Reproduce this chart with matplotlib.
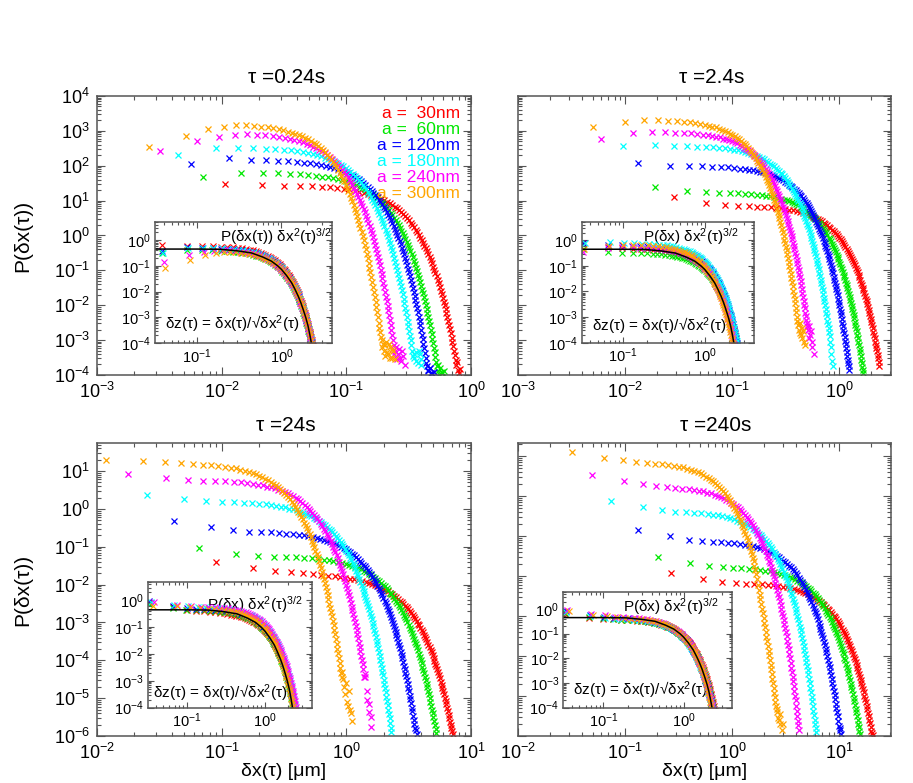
import numpy as np
import matplotlib
matplotlib.use("Agg")
import matplotlib.pyplot as plt
from matplotlib.ticker import LogLocator, NullFormatter

plt.rcParams["font.family"] = ["Liberation Sans", "DejaVu Sans"]
plt.rcParams["mathtext.default"] = "regular"

nan = float("nan")  # empty histogram bin

sizes = ["a =  30nm", "a =  60nm", "a = 120nm", "a = 180nm", "a = 240nm", "a = 300nm"]
colors = ["#ff0000", "#00e800", "#0000ff", "#00ffff", "#ff00ff", "#ffa500"]

# histogram bin number of every point (x = bin * bin width)
bins = list(range(1, 99))

# black master curve of the insets: dz and log10(P dx^2^(3/2))
curve_z = [0.03, 0.1, 0.19, 0.3, 0.44, 0.6, 0.76, 0.9, 1.0, 1.15,
           1.32, 1.45, 1.58, 1.7, 1.81, 1.95, 2.07, 2.17, 2.27, 2.35]
curve_logp = [-0.35, -0.35, -0.36, -0.42, -0.50, -0.66, -0.82, -1.0, -1.14, -1.38,
              -1.66, -1.92, -2.18, -2.44, -2.70, -3.03, -3.35, -3.68, -4.03, -4.3]

# ---- tau = 0.24 s : bin width [um], sqrt(<dx^2>) [um], log10 P per bin
width_024s = [0.0106, 0.0071, 0.0057, 0.0045, 0.0032, 0.0026]
rms_024s = [0.279, 0.187, 0.150, 0.1154, 0.080, 0.0628]
logp_024s_30nm = [
    1.49, 1.44, 1.42, 1.42, 1.41, 1.40, 1.38, 1.36, 1.34, 1.32, 1.29, 1.26, 1.23, 1.20, 1.17, 1.13,
    1.09, 1.05, 1.01, 0.97, 0.93, 0.88, 0.83, 0.78, 0.73, 0.67, 0.61, 0.55, 0.49, 0.43, 0.37, 0.30,
    0.23, 0.16, 0.09, 0.02, -0.06, -0.13, -0.21, -0.29, -0.37, -0.45, -0.54, -0.62, -0.71, -0.80, -0.89, -0.98,
    -1.08, -1.17, -1.27, -1.37, -1.47, -1.58, -1.68, -1.79, -1.90, -2.00, -2.11, -2.23, -2.34, -2.46, -2.58, -2.69,
    -2.81, -2.93, -3.06, -3.18, -3.31, -3.44, -3.57, -3.70, -3.62, -3.85, -3.95, nan, -3.82]
logp_024s_60nm = [
    1.68, 1.78, 1.79, 1.78, 1.76, 1.75, 1.73, 1.71, 1.69, 1.67, 1.64, 1.61, 1.58, 1.55, 1.52, 1.48,
    1.44, 1.40, 1.36, 1.32, 1.28, 1.23, 1.18, 1.13, 1.08, 1.02, 0.96, 0.90, 0.84, 0.78, 0.72, 0.65,
    0.58, 0.51, 0.44, 0.37, 0.29, 0.22, 0.14, 0.06, -0.02, -0.10, -0.19, -0.27, -0.36, -0.45, -0.54, -0.63,
    -0.73, -0.82, -0.92, -1.02, -1.12, -1.23, -1.33, -1.44, -1.55, -1.65, -1.76, -1.88, -1.99, -2.11, -2.23, -2.34,
    -2.46, -2.58, -2.71, -2.83, -2.96, -3.09, -3.22, -3.35, -3.49, -3.62, -3.75, -3.70, -3.90, -3.98, nan, -3.80,
    nan, -3.92, -3.95, nan, nan, -3.88]
logp_024s_120nm = [
    2.04, 2.21, 2.17, 2.16, 2.14, 2.13, 2.11, 2.09, 2.07, 2.05, 2.02, 1.99, 1.96, 1.93, 1.90, 1.86,
    1.82, 1.78, 1.74, 1.70, 1.66, 1.61, 1.56, 1.51, 1.46, 1.40, 1.34, 1.28, 1.22, 1.16, 1.10, 1.03,
    0.96, 0.89, 0.82, 0.75, 0.67, 0.60, 0.52, 0.44, 0.36, 0.28, 0.19, 0.11, 0.02, -0.07, -0.16, -0.25,
    -0.35, -0.44, -0.54, -0.64, -0.74, -0.85, -0.95, -1.06, -1.17, -1.27, -1.38, -1.50, -1.61, -1.73, -1.85, -1.96,
    -2.08, -2.20, -2.33, -2.45, -2.58, -2.71, -2.84, -2.97, -3.11, -3.24, -3.38, -3.51, -3.65, -3.75, -3.85, -3.90,
    nan, -3.80, -3.80, -3.95, nan, -3.95, nan, nan, -3.92]
logp_024s_180nm = [
    2.32, 2.51, 2.52, 2.50, 2.49, 2.48, 2.46, 2.44, 2.42, 2.39, 2.36, 2.33, 2.30, 2.27, 2.23, 2.20,
    2.16, 2.11, 2.07, 2.02, 1.98, 1.93, 1.88, 1.82, 1.77, 1.71, 1.65, 1.59, 1.53, 1.46, 1.39, 1.32,
    1.25, 1.18, 1.11, 1.03, 0.95, 0.87, 0.79, 0.70, 0.62, 0.53, 0.45, 0.36, 0.27, 0.17, 0.08, -0.02,
    -0.12, -0.22, -0.33, -0.43, -0.54, -0.65, -0.76, -0.87, -0.98, -1.10, -1.21, -1.33, -1.45, -1.57, -1.69, -1.82,
    -1.94, -2.07, -2.20, -2.33, -2.47, -2.60, -2.74, -2.88, -3.01, -3.15, -3.30, -3.45, -3.50, -3.40, nan, -3.35,
    -3.60, nan, -3.65, nan, -3.30, -3.40, nan, -3.55, -3.70]
logp_024s_240nm = [
    2.42, 2.71, 2.83, 2.88, 2.91, 2.89, 2.87, 2.84, 2.82, 2.79, 2.77, 2.74, 2.70, 2.67, 2.63, 2.59,
    2.55, 2.50, 2.46, 2.41, 2.36, 2.31, 2.26, 2.20, 2.14, 2.08, 2.02, 1.95, 1.89, 1.82, 1.75, 1.68,
    1.60, 1.53, 1.45, 1.37, 1.28, 1.20, 1.11, 1.03, 0.94, 0.85, 0.75, 0.66, 0.56, 0.47, 0.37, 0.27,
    0.16, 0.06, -0.05, -0.16, -0.27, -0.39, -0.50, -0.62, -0.74, -0.86, -0.98, -1.10, -1.23, -1.35, -1.48, -1.62,
    -1.75, -1.88, -2.02, -2.15, -2.29, -2.43, -2.57, -2.71, -2.86, -3.00, -3.15, -3.40, -3.30, -3.20, nan, -3.55,
    nan, -3.40, -3.25, nan, -3.50, -3.60, nan, -3.30, -3.45, nan, nan, -3.70]
logp_024s_300nm = [
    2.54, 2.85, 3.04, 3.12, 3.16, 3.16, 3.14, 3.12, 3.10, 3.08, 3.05, 3.02, 2.98, 2.95, 2.92, 2.88,
    2.84, 2.80, 2.76, 2.71, 2.66, 2.61, 2.56, 2.50, 2.44, 2.38, 2.32, 2.25, 2.18, 2.11, 2.04, 1.96,
    1.88, 1.80, 1.72, 1.63, 1.55, 1.46, 1.37, 1.27, 1.18, 1.08, 0.98, 0.88, 0.77, 0.67, 0.56, 0.45,
    0.33, 0.22, 0.10, -0.02, -0.14, -0.27, -0.39, -0.52, -0.65, -0.79, -0.92, -1.06, -1.19, -1.33, -1.47, -1.62,
    -1.76, -1.91, -2.05, -2.20, -2.35, -2.50, -2.65, -2.77, -2.90, -3.00, -3.20, -3.10, -3.30, -3.45, -3.15, -3.05,
    -3.35, nan, -3.40, -3.10, nan, -3.20, -3.50, nan, -3.50, -3.25, nan, -3.30, nan, nan, -3.55]

# ---- tau = 2.4 s
width_2p4s = [0.0287, 0.019, 0.0131, 0.0095, 0.0059, 0.00505]
rms_2p4s = [0.87, 0.576, 0.40, 0.275, 0.179, 0.15]
logp_2p4s_30nm = [
    0.09, -0.08, -0.13, -0.15, -0.16, -0.17, -0.18, -0.19, -0.21, -0.22, -0.24, -0.26, -0.28, -0.30, -0.32, -0.35,
    -0.37, -0.40, -0.43, -0.46, -0.49, -0.52, -0.55, -0.59, -0.63, -0.67, -0.71, -0.75, -0.79, -0.83, -0.87, -0.92,
    -0.97, -1.01, -1.06, -1.11, -1.16, -1.21, -1.27, -1.32, -1.38, -1.44, -1.49, -1.55, -1.61, -1.67, -1.73, -1.80,
    -1.86, -1.93, -2.00, -2.06, -2.13, -2.20, -2.28, -2.35, -2.42, -2.50, -2.57, -2.65, -2.73, -2.81, -2.89, -2.97,
    -3.05, -3.14, -3.22, -3.31, -3.40, -3.48, -3.57, -3.66, -3.76, -3.85, -3.94, -4.04, -4.13, -4.23, -4.32, -4.42,
    -4.52, -4.63, -4.73]
logp_2p4s_60nm = [
    0.39, 0.28, 0.24, 0.23, 0.22, 0.21, 0.20, 0.19, 0.17, 0.16, 0.14, 0.12, 0.10, 0.08, 0.06, 0.03,
    0.01, -0.02, -0.05, -0.08, -0.11, -0.14, -0.17, -0.21, -0.25, -0.29, -0.33, -0.37, -0.41, -0.45, -0.50, -0.54,
    -0.59, -0.63, -0.68, -0.73, -0.78, -0.83, -0.89, -0.94, -1.00, -1.06, -1.11, -1.17, -1.23, -1.29, -1.35, -1.42,
    -1.48, -1.55, -1.62, -1.68, -1.75, -1.82, -1.90, -1.97, -2.04, -2.12, -2.19, -2.27, -2.35, -2.43, -2.51, -2.59,
    -2.67, -2.76, -2.84, -2.93, -3.02, -3.10, -3.19, -3.28, -3.38, -3.47, -3.56, -3.66, -3.75, -3.85, -3.94, -4.04,
    -4.14, -4.25, -4.35, -4.45, -4.56, -4.66, -4.76, -4.85, -4.95]
logp_2p4s_120nm = [
    1.07, 0.99, 0.99, 0.98, 0.97, 0.96, 0.95, 0.94, 0.92, 0.91, 0.89, 0.87, 0.85, 0.83, 0.81, 0.78,
    0.76, 0.73, 0.70, 0.67, 0.64, 0.61, 0.58, 0.54, 0.50, 0.46, 0.42, 0.38, 0.34, 0.30, 0.26, 0.21,
    0.16, 0.12, 0.07, 0.02, -0.03, -0.08, -0.14, -0.19, -0.25, -0.31, -0.36, -0.42, -0.48, -0.54, -0.60, -0.67,
    -0.73, -0.80, -0.87, -0.93, -1.00, -1.07, -1.15, -1.22, -1.29, -1.37, -1.44, -1.52, -1.60, -1.68, -1.76, -1.84,
    -1.92, -2.01, -2.09, -2.18, -2.27, -2.35, -2.44, -2.53, -2.63, -2.72, -2.81, -2.91, -3.00, -3.10, -3.19, -3.29,
    -3.39, -3.50, -3.60, -3.70, -3.81, -3.91, -4.02, -4.12, -4.23, -4.34, -4.45, -4.56, -4.66, -4.75, -4.85]
logp_2p4s_180nm = [
    1.57, 1.60, 1.57, 1.56, 1.55, 1.54, 1.53, 1.51, 1.50, 1.48, 1.46, 1.44, 1.41, 1.39, 1.36, 1.34,
    1.31, 1.28, 1.25, 1.21, 1.18, 1.14, 1.10, 1.06, 1.02, 0.98, 0.94, 0.89, 0.85, 0.80, 0.75, 0.70,
    0.65, 0.59, 0.54, 0.48, 0.43, 0.37, 0.31, 0.25, 0.19, 0.12, 0.06, -0.01, -0.08, -0.14, -0.21, -0.28,
    -0.36, -0.43, -0.51, -0.58, -0.66, -0.74, -0.82, -0.90, -0.98, -1.07, -1.15, -1.24, -1.32, -1.41, -1.50, -1.60,
    -1.69, -1.78, -1.88, -1.97, -2.07, -2.17, -2.27, -2.37, -2.47, -2.57, -2.68, -2.78, -2.89, -3.00, -3.10, -3.21,
    -3.32, -3.44, -3.55, -3.66, -3.78, -3.89, -4.05, -4.20, -4.40, nan, -4.60, -4.75]
logp_2p4s_240nm = [
    1.78, 1.93, 1.97, 1.96, 1.95, 1.94, 1.93, 1.91, 1.89, 1.87, 1.85, 1.83, 1.81, 1.78, 1.76, 1.73,
    1.70, 1.67, 1.64, 1.60, 1.56, 1.52, 1.49, 1.45, 1.41, 1.36, 1.32, 1.27, 1.22, 1.17, 1.12, 1.07,
    1.02, 0.96, 0.91, 0.85, 0.79, 0.73, 0.67, 0.60, 0.54, 0.47, 0.41, 0.34, 0.27, 0.20, 0.13, 0.05,
    -0.02, -0.10, -0.18, -0.25, -0.33, -0.41, -0.50, -0.58, -0.67, -0.75, -0.84, -0.93, -1.02, -1.11, -1.21, -1.30,
    -1.40, -1.50, -1.59, -1.69, -1.79, -1.89, -1.99, -2.10, -2.20, -2.31, -2.42, -2.53, -2.64, -2.75, -2.87, -2.98,
    -3.09, -3.21, -3.32, -3.41, -3.51, -3.60, -3.72, -3.60, -3.95, nan, -3.85, -3.75, nan, -4.05, -4.20, nan,
    nan, -4.40]
logp_2p4s_300nm = [
    2.12, 2.26, 2.30, 2.30, 2.29, 2.27, 2.26, 2.24, 2.22, 2.20, 2.18, 2.15, 2.12, 2.10, 2.06, 2.03,
    2.00, 1.96, 1.92, 1.88, 1.84, 1.80, 1.76, 1.71, 1.66, 1.61, 1.56, 1.51, 1.46, 1.40, 1.34, 1.28,
    1.22, 1.15, 1.09, 1.02, 0.96, 0.89, 0.82, 0.75, 0.68, 0.60, 0.53, 0.45, 0.37, 0.28, 0.20, 0.12,
    0.03, -0.05, -0.14, -0.23, -0.32, -0.42, -0.51, -0.61, -0.71, -0.81, -0.91, -1.01, -1.12, -1.22, -1.33, -1.43,
    -1.54, -1.65, -1.77, -1.88, -1.99, -2.11, -2.22, -2.34, -2.46, -2.58, -2.70, -2.83, -2.95, -3.08, -3.20, -3.33,
    -3.45, -3.58, -3.70, -3.55, -3.80, -3.50, nan, -3.85, -3.95, -3.65, nan, -3.75, -4.05, nan, -4.15]

# ---- tau = 24 s
width_24s = [0.0895, 0.0658, 0.0414, 0.025, 0.0178, 0.0118]
rms_24s = [2.70, 1.99, 1.25, 0.72, 0.47, 0.319]
logp_24s_30nm = [
    -1.39, -1.55, -1.64, -1.68, -1.70, -1.72, -1.74, -1.76, -1.78, -1.80, -1.82, -1.84, -1.86, -1.88, -1.90, -1.92,
    -1.95, -1.99, -2.02, -2.05, -2.08, -2.11, -2.15, -2.18, -2.22, -2.26, -2.30, -2.34, -2.38, -2.42, -2.46, -2.51,
    -2.56, -2.60, -2.65, -2.70, -2.75, -2.80, -2.86, -2.91, -2.97, -3.03, -3.08, -3.14, -3.20, -3.26, -3.32, -3.39,
    -3.45, -3.52, -3.59, -3.65, -3.72, -3.79, -3.87, -3.94, -4.01, -4.09, -4.16, -4.24, -4.32, -4.40, -4.48, -4.56,
    -4.64, -4.73, -4.81, -4.90, -4.99, -5.07, -5.16, -5.25, -5.35, -5.44, -5.53, -5.63, -5.72, -5.80, -5.87, -5.95]
logp_24s_60nm = [
    -1.02, -1.19, -1.25, -1.26, -1.27, -1.28, -1.29, -1.31, -1.32, -1.34, -1.36, -1.38, -1.40, -1.43, -1.45, -1.48,
    -1.51, -1.54, -1.57, -1.60, -1.63, -1.67, -1.71, -1.75, -1.79, -1.83, -1.87, -1.91, -1.96, -2.01, -2.05, -2.10,
    -2.15, -2.21, -2.26, -2.31, -2.37, -2.42, -2.48, -2.54, -2.60, -2.66, -2.73, -2.79, -2.86, -2.92, -2.99, -3.06,
    -3.14, -3.21, -3.28, -3.36, -3.43, -3.51, -3.58, -3.66, -3.74, -3.83, -3.91, -4.00, -4.08, -4.17, -4.26, -4.34,
    -4.43, -4.52, -4.62, -4.71, -4.81, -4.90, -5.00, -5.10, -5.20, -5.30, -5.40, -5.51, -5.61, -5.72, -5.82, -5.93]
logp_24s_120nm = [
    -0.32, -0.49, -0.57, -0.60, -0.61, -0.62, -0.63, -0.65, -0.66, -0.68, -0.70, -0.72, -0.74, -0.76, -0.79, -0.81,
    -0.84, -0.87, -0.90, -0.93, -0.96, -1.00, -1.03, -1.07, -1.11, -1.15, -1.19, -1.23, -1.27, -1.32, -1.37, -1.42,
    -1.47, -1.52, -1.57, -1.62, -1.68, -1.73, -1.79, -1.84, -1.90, -1.96, -2.03, -2.09, -2.15, -2.22, -2.28, -2.35,
    -2.42, -2.49, -2.56, -2.64, -2.71, -2.78, -2.86, -2.93, -3.01, -3.09, -3.17, -3.25, -3.34, -3.42, -3.51, -3.59,
    -3.68, -3.77, -3.86, -3.95, -4.04, -4.14, -4.23, -4.33, -4.42, -4.52, -4.62, -4.72, -4.82, -4.93, -5.03, -5.14,
    -5.25, -5.35, -5.46, -5.57, -5.67, -5.78, -5.85, nan, -5.95]
logp_24s_180nm = [
    0.37, 0.26, 0.21, 0.18, 0.17, 0.16, 0.15, 0.13, 0.12, 0.10, 0.08, 0.06, 0.04, 0.01, -0.01, -0.04,
    -0.07, -0.10, -0.13, -0.16, -0.20, -0.23, -0.27, -0.31, -0.35, -0.39, -0.43, -0.48, -0.52, -0.57, -0.62, -0.67,
    -0.72, -0.77, -0.82, -0.88, -0.93, -0.99, -1.05, -1.11, -1.17, -1.23, -1.30, -1.36, -1.43, -1.49, -1.56, -1.63,
    -1.71, -1.78, -1.85, -1.93, -2.00, -2.08, -2.16, -2.24, -2.32, -2.40, -2.48, -2.57, -2.65, -2.74, -2.83, -2.92,
    -3.01, -3.10, -3.20, -3.29, -3.39, -3.48, -3.58, -3.68, -3.78, -3.88, -3.98, -4.09, -4.19, -4.30, -4.40, -4.51,
    -4.62, -4.74, -4.85, -4.96, -5.07, -5.18, -5.30, -5.41, -5.53, -5.65, -5.78, -5.90]
logp_24s_240nm = [
    0.92, 0.82, 0.76, 0.75, 0.74, 0.73, 0.72, 0.70, 0.69, 0.66, 0.64, 0.62, 0.59, 0.57, 0.54, 0.51,
    0.48, 0.44, 0.41, 0.37, 0.33, 0.29, 0.25, 0.20, 0.16, 0.11, 0.06, 0.01, -0.05, -0.10, -0.15, -0.21,
    -0.27, -0.33, -0.39, -0.45, -0.52, -0.58, -0.65, -0.71, -0.78, -0.85, -0.93, -1.00, -1.08, -1.15, -1.23, -1.31,
    -1.39, -1.47, -1.56, -1.64, -1.73, -1.82, -1.91, -2.00, -2.09, -2.19, -2.28, -2.38, -2.48, -2.58, -2.68, -2.78,
    -2.88, -2.99, -3.09, -3.20, -3.31, -3.42, -3.53, -3.65, -3.76, -3.88, -4.00, -4.11, -4.23, -4.45, -4.35, -4.45,
    nan, -4.80, -5.05, nan, -5.15, -5.36, nan, -5.50, -5.77]
logp_24s_300nm = [
    1.29, 1.27, 1.23, 1.20, 1.18, 1.17, 1.15, 1.14, 1.11, 1.09, 1.07, 1.04, 1.01, 0.98, 0.95, 0.92,
    0.88, 0.84, 0.80, 0.76, 0.72, 0.67, 0.63, 0.58, 0.53, 0.47, 0.42, 0.37, 0.31, 0.25, 0.19, 0.13,
    0.06, 0.00, -0.07, -0.14, -0.21, -0.28, -0.36, -0.43, -0.51, -0.59, -0.67, -0.75, -0.84, -0.92, -1.01, -1.10,
    -1.19, -1.28, -1.37, -1.47, -1.56, -1.66, -1.76, -1.86, -1.96, -2.07, -2.17, -2.28, -2.39, -2.50, -2.61, -2.73,
    -2.84, -2.96, -3.07, -3.19, -3.31, -3.44, -3.56, -3.69, -3.81, -3.94, -4.07, -4.20, -4.33, -4.45, -4.30, -4.50,
    nan, -4.70, -4.90, nan, -4.60, -5.10, nan, -5.20, -4.80, nan, -5.30, -5.40, nan, nan, -5.60]

# ---- tau = 240 s
width_240s = [0.27, 0.204, 0.1315, 0.074, 0.049, 0.0318]
rms_240s = [8.15, 6.15, 3.868, 2.145, 1.40, 0.859]
logp_240s_30nm = [
    -2.92, -3.08, -3.14, -3.16, -3.19, -3.19, -3.20, -3.21, -3.23, -3.24, -3.26, -3.28, -3.30, -3.32, -3.34, -3.37,
    -3.39, -3.42, -3.45, -3.48, -3.51, -3.54, -3.57, -3.61, -3.65, -3.69, -3.73, -3.77, -3.81, -3.85, -3.89, -3.94,
    -3.99, -4.03, -4.08, -4.13, -4.18, -4.23, -4.29, -4.34, -4.40, -4.46, -4.51, -4.57, -4.63, -4.69, -4.75, -4.82,
    -4.88, -4.95, -5.02, -5.08, -5.15, -5.22, -5.30, -5.37, -5.44, -5.52, -5.59, -5.67, -5.75, -5.83, -5.91, -5.99,
    -6.07, -6.16, -6.24, -6.33, -6.42, -6.50, -6.59, -6.68, -6.78, -6.87, -6.92, nan, -6.97]
logp_240s_60nm = [
    -2.53, -2.68, -2.75, -2.77, -2.80, -2.80, -2.81, -2.83, -2.84, -2.86, -2.88, -2.90, -2.92, -2.94, -2.97, -2.99,
    -3.02, -3.05, -3.08, -3.11, -3.14, -3.18, -3.21, -3.25, -3.29, -3.33, -3.37, -3.41, -3.45, -3.50, -3.55, -3.60,
    -3.65, -3.70, -3.75, -3.80, -3.86, -3.91, -3.97, -4.02, -4.08, -4.14, -4.21, -4.27, -4.33, -4.40, -4.46, -4.53,
    -4.60, -4.67, -4.74, -4.82, -4.89, -4.96, -5.04, -5.11, -5.19, -5.27, -5.35, -5.43, -5.52, -5.60, -5.69, -5.77,
    -5.86, -5.95, -6.04, -6.13, -6.22, -6.32, -6.41, -6.51, -6.60, -6.70, -6.78, -6.87, -6.95]
logp_240s_120nm = [
    -1.85, -1.99, -2.10, -2.12, -2.14, -2.14, -2.16, -2.17, -2.19, -2.21, -2.23, -2.25, -2.28, -2.30, -2.33, -2.36,
    -2.39, -2.42, -2.45, -2.49, -2.53, -2.57, -2.61, -2.65, -2.69, -2.74, -2.78, -2.83, -2.88, -2.93, -2.98, -3.04,
    -3.09, -3.15, -3.20, -3.26, -3.33, -3.39, -3.45, -3.52, -3.58, -3.65, -3.72, -3.79, -3.86, -3.93, -4.00, -4.08,
    -4.16, -4.24, -4.32, -4.40, -4.48, -4.56, -4.65, -4.73, -4.82, -4.91, -5.00, -5.09, -5.19, -5.28, -5.38, -5.47,
    -5.57, -5.67, -5.77, -5.87, -5.98, -6.08, -6.19, -6.30, -6.40, -6.51, -6.62, -6.74, -6.85, -6.80, nan, -6.95]
logp_240s_180nm = [
    -1.12, -1.28, -1.35, -1.39, -1.40, -1.41, -1.43, -1.45, -1.46, -1.48, -1.50, -1.53, -1.55, -1.58, -1.61, -1.64,
    -1.67, -1.70, -1.73, -1.77, -1.81, -1.85, -1.90, -1.94, -1.98, -2.02, -2.07, -2.12, -2.17, -2.22, -2.27, -2.33,
    -2.39, -2.44, -2.50, -2.56, -2.63, -2.69, -2.76, -2.82, -2.89, -2.96, -3.03, -3.10, -3.18, -3.25, -3.33, -3.41,
    -3.48, -3.56, -3.64, -3.73, -3.81, -3.90, -3.99, -4.08, -4.17, -4.26, -4.35, -4.45, -4.54, -4.64, -4.74, -4.84,
    -4.94, -5.04, -5.15, -5.25, -5.36, -5.46, -5.57, -5.68, -5.79, -5.90, -6.02, -6.13, -6.25, -6.37, -6.48, -6.60,
    -6.70, -6.80, -6.90]
logp_240s_240nm = [
    -0.48, -0.63, -0.70, -0.75, -0.78, -0.79, -0.81, -0.82, -0.84, -0.86, -0.88, -0.91, -0.93, -0.96, -0.99, -1.02,
    -1.05, -1.09, -1.12, -1.16, -1.20, -1.24, -1.28, -1.33, -1.37, -1.42, -1.47, -1.52, -1.57, -1.62, -1.67, -1.73,
    -1.79, -1.85, -1.91, -1.97, -2.04, -2.10, -2.17, -2.24, -2.31, -2.38, -2.46, -2.53, -2.61, -2.68, -2.76, -2.84,
    -2.92, -3.00, -3.08, -3.17, -3.25, -3.34, -3.44, -3.53, -3.62, -3.72, -3.81, -3.91, -4.00, -4.10, -4.20, -4.31,
    -4.41, -4.51, -4.62, -4.72, -4.83, -4.95, -5.06, -5.17, -5.29, -5.40, -5.52, -5.63, -5.75, -5.87, -5.99, -6.11,
    -6.24, -6.37, -6.50, -6.62, -6.73, -6.85]
logp_240s_300nm = [
    0.11, -0.04, -0.10, -0.14, -0.17, -0.19, -0.20, -0.21, -0.24, -0.26, -0.28, -0.31, -0.34, -0.37, -0.40, -0.43,
    -0.47, -0.51, -0.55, -0.59, -0.63, -0.68, -0.72, -0.77, -0.82, -0.88, -0.93, -0.99, -1.04, -1.10, -1.16, -1.22,
    -1.29, -1.35, -1.42, -1.49, -1.56, -1.63, -1.71, -1.78, -1.86, -1.94, -2.02, -2.10, -2.19, -2.27, -2.36, -2.45,
    -2.54, -2.63, -2.74, -2.84, -2.95, -3.08, -3.22, -3.35, -3.47, -3.58, -3.70, -3.82, -3.93, -4.05, -4.17, -4.28,
    -4.40, -4.52, -4.63, -4.75, -4.87, -4.98, -5.10, -5.22, -5.33, -5.45, -5.57, -5.68, -5.80, -5.92, -6.03, -6.15,
    -6.25, -6.32, -6.40, nan, -6.55, -6.60, nan, -6.70, -6.45, nan, nan, -6.85, nan, nan, -6.70]

panels = [
    ("τ =0.24s", width_024s, rms_024s,
     [logp_024s_30nm, logp_024s_60nm, logp_024s_120nm, logp_024s_180nm, logp_024s_240nm, logp_024s_300nm],
     "P(δx(τ)) δx$^2$(τ)$^{3/2}$"),
    ("τ =2.4s", width_2p4s, rms_2p4s,
     [logp_2p4s_30nm, logp_2p4s_60nm, logp_2p4s_120nm, logp_2p4s_180nm, logp_2p4s_240nm, logp_2p4s_300nm],
     "P(δx) δx$^2$(τ)$^{3/2}$"),
    ("τ =24s", width_24s, rms_24s,
     [logp_24s_30nm, logp_24s_60nm, logp_24s_120nm, logp_24s_180nm, logp_24s_240nm, logp_24s_300nm],
     "P(δx) δx$^2$(τ)$^{3/2}$"),
    ("τ =240s", width_240s, rms_240s,
     [logp_240s_30nm, logp_240s_60nm, logp_240s_120nm, logp_240s_180nm, logp_240s_240nm, logp_240s_300nm],
     "P(δx) δx$^2$(τ)$^{3/2}$"),
]

# layout of each panel (figure fractions)
layout = [
    dict(rect=[0.1062, 0.5211, 0.4096, 0.3563], inset=[0.1698, 0.5619, 0.1939, 0.1545],
         xlim=(1e-3, 1.0), ylim=(1e-4, 1e4), title=(0.507, 1.068), left=True, bottom=False,
         top_txt=(1.0, 0.884), bot_txt=(0.056, 0.15)),
    dict(rect=[0.5674, 0.5211, 0.4085, 0.3563], inset=[0.6371, 0.5623, 0.1887, 0.1537],
         xlim=(1e-3, 3.06), ylim=(1e-5, 1e3), title=(0.52, 1.068), left=False, bottom=False,
         top_txt=(0.913, 0.88), bot_txt=(0.058, 0.135)),
    dict(rect=[0.1062, 0.0600, 0.4096, 0.3742], inset=[0.1618, 0.0962, 0.1796, 0.1609],
         xlim=(1e-2, 10.0), ylim=(1e-6, 55), title=(0.505, 1.061), left=True, bottom=True,
         top_txt=(0.949, 0.82), bot_txt=(0.032, 0.117)),
    dict(rect=[0.5674, 0.0600, 0.4085, 0.3742], inset=[0.6170, 0.0962, 0.1844, 0.1481],
         xlim=(1e-2, 30.6), ylim=(1e-7, 2.14), title=(0.531, 1.061), left=False, bottom=True,
         top_txt=(0.925, 0.87), bot_txt=(0.058, 0.15)),
]

FRAME = "#555555"


def log_axes(ax, labelsize, major, minor, pad):
    ax.set_xscale("log")
    ax.set_yscale("log")
    for axis in (ax.xaxis, ax.yaxis):
        axis.set_major_locator(LogLocator(base=10, numticks=30))
        axis.set_minor_locator(LogLocator(base=10, subs=np.arange(2, 10), numticks=300))
        axis.set_minor_formatter(NullFormatter())
    ax.tick_params(which="both", direction="in", top=True, right=True,
                   color=FRAME, width=0.8, labelsize=labelsize, pad=pad)
    ax.tick_params(which="major", length=major)
    ax.tick_params(which="minor", length=minor)
    for s in ax.spines.values():
        s.set_color(FRAME)
        s.set_linewidth(1.1)


fig = plt.figure(figsize=(9.13, 7.83), dpi=100)

for (title, widths, rms, logps, top_text), lay in zip(panels, layout):
    ax = fig.add_axes(lay["rect"])
    log_axes(ax, 13, 6, 3, 5)
    for logp, w, c in zip(logps, widths, colors):
        x = np.array(bins[:len(logp)]) * w
        ax.plot(x, 10.0 ** np.array(logp), "x", color=c, ms=5, mew=0.9)
    ax.set_xlim(*lay["xlim"])
    ax.set_ylim(*lay["ylim"])
    ax.text(lay["title"][0], lay["title"][1], title, transform=ax.transAxes,
            ha="center", va="center", fontsize=15)
    if lay["left"]:
        ax.set_ylabel("P(δx(τ))", fontsize=15)
        ax.yaxis.set_label_coords(-0.174, 0.5)
    else:
        ax.tick_params(labelleft=False)
    if lay["bottom"]:
        ax.set_xlabel("δx(τ) [μm]", fontsize=14)
        ax.xaxis.set_label_coords(0.5, -0.091)

    ins = fig.add_axes(lay["inset"])
    log_axes(ins, 10.5, 4, 2, 3)
    for logp, w, s, c in zip(logps, widths, rms, colors):
        x = np.array(bins[:len(logp)]) * w
        ins.plot(x / s, 10.0 ** np.array(logp) * s ** 3, "x", color=c, ms=3.8, mew=0.8)
    ins.plot(curve_z, 10.0 ** np.array(curve_logp), color="black", lw=1.1)
    ins.set_xlim(10 ** -1.5, 10 ** 0.6)
    ins.set_ylim(1e-4, 5)
    ins.text(lay["top_txt"][0], lay["top_txt"][1], top_text, transform=ins.transAxes,
             ha="right", va="center", fontsize=11, zorder=1)
    ins.text(lay["bot_txt"][0], lay["bot_txt"][1], "δz(τ) = δx(τ)/√δx$^2$(τ)",
             transform=ins.transAxes, ha="left", va="center", fontsize=11, zorder=1)

    if title == "τ =0.24s":
        for i, (lab, c) in enumerate(zip(sizes, colors)):
            ax.text(0.971, 0.939 - 0.0575 * i, lab, color=c, transform=ax.transAxes,
                    ha="right", va="center", fontsize=12.5)

fig.savefig("out.png", dpi=100)
